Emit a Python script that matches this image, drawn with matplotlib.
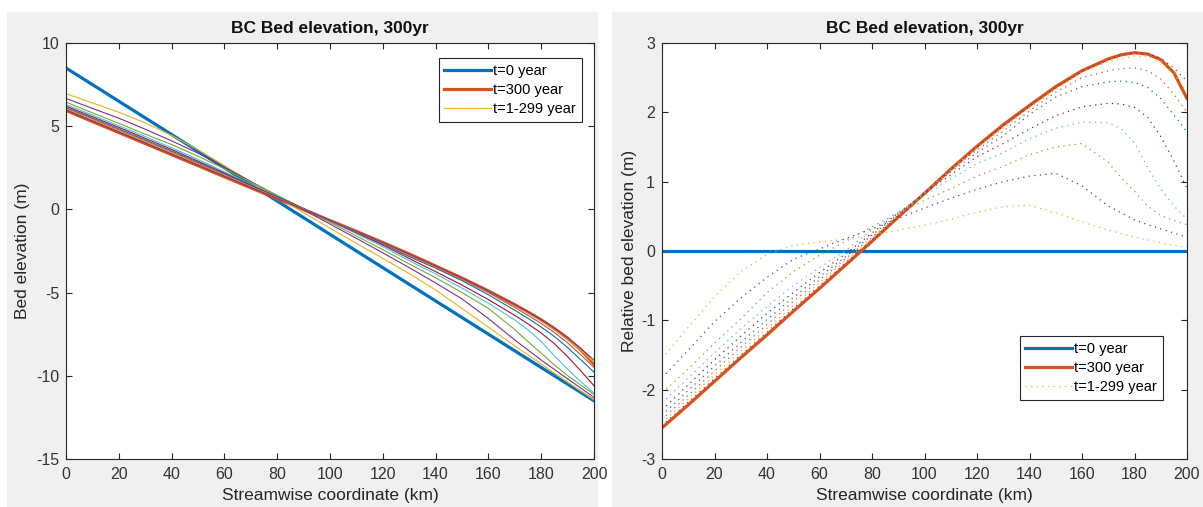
import numpy as np
import matplotlib.pyplot as plt
from matplotlib.patches import Rectangle

plt.rcParams['font.family'] = ['Liberation Sans', 'DejaVu Sans']
plt.rcParams['axes.unicode_minus'] = False

# streamwise coordinate (km)
km = [0, 10, 20, 30, 40, 50, 60, 70, 80, 90, 100, 110, 120, 130, 140, 150,
      160, 170, 175, 180, 185, 190, 195, 200]

# initial bed (m)
bed_t0 = [8.5, 7.5, 6.5, 5.5, 4.5, 3.5, 2.5, 1.5, 0.5, -0.5, -1.5, -2.5, -3.5,
          -4.5, -5.5, -6.5, -7.5, -8.5, -9.0, -9.5, -10.0, -10.5, -11.0, -11.5]

# bed relative to t=0 (m)
rel_t300 = [-2.55, -2.22, -1.88, -1.54, -1.21, -0.87, -0.54, -0.20, 0.14, 0.49, 0.83, 1.18,
            1.51, 1.82, 2.10, 2.37, 2.60, 2.77, 2.83, 2.86, 2.84, 2.76, 2.57, 2.20]
rel_t30 = [-1.55, -1.10, -0.66, -0.30, -0.05, 0.08, 0.13, 0.17, 0.23, 0.30, 0.37, 0.46,
           0.56, 0.64, 0.66, 0.55, 0.42, 0.30, 0.25, 0.20, 0.16, 0.12, 0.08, 0.05]
rel_t60 = [-1.83, -1.43, -1.02, -0.68, -0.38, -0.12, 0.03, 0.18, 0.32, 0.47, 0.62, 0.76,
           0.89, 1.00, 1.08, 1.12, 0.94, 0.65, 0.55, 0.45, 0.38, 0.32, 0.26, 0.20]
rel_t90 = [-2.05, -1.70, -1.33, -0.98, -0.60, -0.30, -0.06, 0.14, 0.35, 0.55, 0.73, 0.90,
           1.08, 1.22, 1.39, 1.50, 1.55, 1.28, 1.05, 0.86, 0.65, 0.51, 0.44, 0.38]
rel_t120 = [-2.19, -1.83, -1.47, -1.12, -0.80, -0.50, -0.24, 0.01, 0.30, 0.56, 0.80, 1.04,
            1.26, 1.42, 1.62, 1.77, 1.86, 1.85, 1.76, 1.56, 1.20, 0.90, 0.65, 0.46]
rel_t150 = [-2.29, -1.93, -1.57, -1.23, -0.90, -0.60, -0.31, -0.04, 0.26, 0.55, 0.83, 1.10,
            1.36, 1.55, 1.76, 1.95, 2.08, 2.13, 2.12, 2.07, 1.93, 1.65, 1.30, 0.90]
rel_t180 = [-2.37, -2.01, -1.66, -1.32, -0.99, -0.67, -0.37, -0.08, 0.23, 0.53, 0.84, 1.14,
            1.42, 1.66, 1.97, 2.22, 2.37, 2.44, 2.45, 2.43, 2.36, 2.20, 1.96, 1.72]
rel_t210 = [-2.43, -2.08, -1.73, -1.39, -1.06, -0.73, -0.42, -0.11, 0.20, 0.52, 0.84, 1.16,
            1.46, 1.73, 2.02, 2.29, 2.50, 2.60, 2.63, 2.64, 2.60, 2.48, 2.26, 2.00]
rel_t240 = [-2.48, -2.13, -1.79, -1.45, -1.12, -0.79, -0.46, -0.14, 0.18, 0.51, 0.84, 1.17,
            1.49, 1.77, 2.06, 2.33, 2.58, 2.73, 2.78, 2.81, 2.80, 2.73, 2.55, 2.30]
rel_t270 = [-2.52, -2.18, -1.84, -1.50, -1.17, -0.83, -0.50, -0.17, 0.16, 0.50, 0.84, 1.18,
            1.50, 1.80, 2.09, 2.36, 2.59, 2.76, 2.83, 2.86, 2.85, 2.78, 2.64, 2.45]

rel_mid = [rel_t30, rel_t60, rel_t90, rel_t120, rel_t150, rel_t180, rel_t210, rel_t240, rel_t270]

c_blue = '#0072BD'
c_orange = '#D95319'
mid_colors = ['#EDB120', '#7E2F8E', '#77AC30', '#4DBEEE', '#A2142F',
              '#0072BD', '#D95319', '#EDB120', '#7E2F8E']

W, H = 1203, 507
fig = plt.figure(figsize=(W / 100, H / 100), dpi=100, facecolor='white')
fig.patches.append(Rectangle((7 / W, 0), 590 / W, 495 / H, transform=fig.transFigure,
                             color='#f0f0f0', zorder=-10))
fig.patches.append(Rectangle((612 / W, 0), 591 / W, 495 / H, transform=fig.transFigure,
                             color='#f0f0f0', zorder=-10))

ax1 = fig.add_axes([66 / W, 48 / H, 528 / W, 416 / H])
ax2 = fig.add_axes([662 / W, 48 / H, 525 / W, 416 / H])

b0 = np.array(bed_t0)
ax1.plot(km, b0, color=c_blue, lw=2.3, label='t=0 year')
ax1.plot(km, b0 + np.array(rel_t300), color=c_orange, lw=2.3, label='t=300 year')
for i, (rel, c) in enumerate(zip(rel_mid, mid_colors)):
    ax1.plot(km, b0 + np.array(rel), color=c, lw=0.8,
             label='t=1-299 year' if i == 0 else None)

ax2.plot(km, b0 - b0, color=c_blue, lw=2.3, label='t=0 year')
ax2.plot(km, rel_t300, color=c_orange, lw=2.3, label='t=300 year')
for i, (rel, c) in enumerate(zip(rel_mid, mid_colors)):
    ax2.plot(km, rel, color=c, lw=0.9, linestyle=(0, (1, 3.5)),
             label='t=1-299 year' if i == 0 else None)

ax1.set_ylim(-15, 10)
ax1.set_yticks(np.arange(-15, 11, 5))
ax1.set_ylabel('Bed elevation (m)', fontsize=12.5, color='#262626')
ax1.yaxis.set_label_coords(-0.068, 0.5)
ax2.set_ylim(-3, 3)
ax2.set_yticks(np.arange(-3, 4, 1))
ax2.set_ylabel('Relative bed elevation (m)', fontsize=12.5, color='#262626')
ax2.yaxis.set_label_coords(-0.048, 0.5)

for ax in (ax1, ax2):
    ax.set_xlim(0, 200)
    ax.set_xticks(np.arange(0, 201, 20))
    ax.set_xlabel('Streamwise coordinate (km)', fontsize=12.5, color='#262626', labelpad=4)
    ax.set_title('BC Bed elevation, 300yr', fontsize=12.5, fontweight='bold',
                 color='#111111', pad=7)
    ax.tick_params(direction='in', top=True, right=True, length=4, width=0.8,
                   color='#262626', labelcolor='#333333', labelsize=11.5)
    ax.tick_params(axis='x', pad=6)
    ax.tick_params(axis='y', pad=5)
    for s in ax.spines.values():
        s.set_color('#262626')
        s.set_linewidth(0.8)

leg1 = ax1.legend(loc='upper right', bbox_to_anchor=(0.977, 0.964), fancybox=False,
                  edgecolor='#262626', framealpha=1, handlelength=3.2, handletextpad=0.15,
                  borderpad=0.4, labelspacing=0.35, fontsize=10.5, borderaxespad=0)
leg2 = ax2.legend(loc='lower right', bbox_to_anchor=(0.954, 0.142), fancybox=False,
                  edgecolor='#262626', framealpha=1, handlelength=3.2, handletextpad=0.15,
                  borderpad=0.4, labelspacing=0.35, fontsize=10.5, borderaxespad=0)
for leg in (leg1, leg2):
    leg.get_frame().set_linewidth(0.8)

fig.savefig('out.png', dpi=100, facecolor=fig.get_facecolor())
